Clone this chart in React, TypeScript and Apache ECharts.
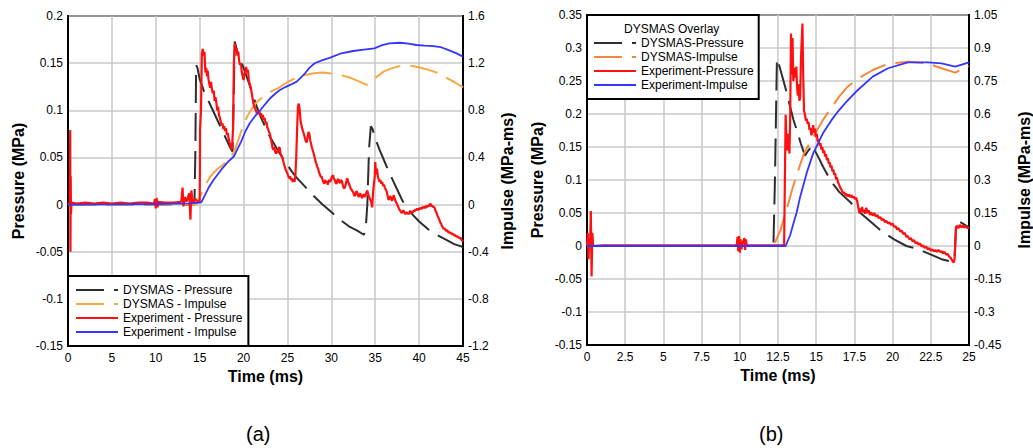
import React, { useEffect, useRef } from "react";
import * as echarts from "echarts";

// ---------- ticks ----------
const aTimeTicks = [0, 5, 10, 15, 20, 25, 30, 35, 40, 45];
const aPressureTicks = [-0.15, -0.1, -0.05, 0, 0.05, 0.1, 0.15, 0.2];
const aImpulseTicks = [-1.2, -0.8, -0.4, 0, 0.4, 0.8, 1.2, 1.6];
const bTimeTicks = [0, 2.5, 5, 7.5, 10, 12.5, 15, 17.5, 20, 22.5, 25];
const bPressureTicks = [-0.15, -0.1, -0.05, 0, 0.05, 0.1, 0.15, 0.2, 0.25, 0.3, 0.35];
const bImpulseTicks = [-0.45, -0.3, -0.15, 0, 0.15, 0.3, 0.45, 0.6, 0.75, 0.9, 1.05];

// ---------- legend names ----------
const aNames = ["DYSMAS - Pressure", "DYSMAS - Impulse", "Experiment - Pressure", "Experiment - Impulse"];
const bNames = ["DYSMAS-Pressure", "DYSMAS-Impulse", "Experiment-Pressure", "Experiment-Impulse"];

// ---------- chart (a) data: [time ms, value] ----------
const aDysmasPressure = [
  [0, 0], [14.4, 0], [14.5, 0.05], [14.6, 0.148], [14.75, 0.145], [15, 0.133], [15.5, 0.12], [16, 0.11],
  [16.5, 0.1], [17, 0.09], [17.5, 0.08], [18, 0.07], [18.5, 0.06], [18.75, 0.056], [18.85, 0.1], [19, 0.173],
  [19.2, 0.165], [19.5, 0.157], [20, 0.145], [20.5, 0.132], [21, 0.118], [21.5, 0.104], [22, 0.092],
  [22.5, 0.082], [23, 0.072], [23.5, 0.064], [24, 0.056], [24.5, 0.049], [25, 0.042], [25.5, 0.035],
  [26, 0.029], [26.5, 0.024], [27, 0.019], [28, 0.009], [29, 0.0], [30, -0.008], [31, -0.016], [32, -0.023],
  [33, -0.028], [33.7, -0.032], [33.9, -0.028], [34.1, 0.0], [34.3, 0.06], [34.5, 0.083], [34.7, 0.08],
  [35, 0.07], [35.5, 0.058], [36, 0.047], [36.5, 0.036], [37, 0.026], [37.5, 0.016], [38, 0.006],
  [38.5, -0.002], [39, -0.008], [39.5, -0.013], [40, -0.018], [40.5, -0.022], [41, -0.026], [41.5, -0.029],
  [42, -0.032], [43, -0.037], [44, -0.042], [45, -0.045],
];
const aDysmasImpulse = [
  [0, 0], [14.6, 0], [15, 0.06], [15.4, 0.124], [15.8, 0.185], [16.2, 0.236], [16.6, 0.27], [17, 0.3],
  [17.5, 0.33], [18, 0.36], [18.5, 0.4], [19, 0.46], [19.5, 0.57], [20, 0.68], [20.5, 0.76], [21, 0.82],
  [21.5, 0.87], [22, 0.9], [22.5, 0.93], [23, 0.955], [24, 0.99], [25, 1.04], [26, 1.075], [27, 1.1],
  [28, 1.115], [29, 1.12], [30, 1.112], [31, 1.1], [32, 1.08], [33, 1.05], [34, 1.015], [34.5, 1.04],
  [35, 1.075], [36, 1.13], [37, 1.16], [38, 1.178], [39, 1.178], [40, 1.165], [41, 1.145], [42, 1.12],
  [43, 1.08], [44, 1.04], [45, 0.995],
];
const aExpPressure = [
  [0, 0], [0.2, 0.002], [0.25, 0.079], [0.28, -0.05], [0.31, 0.03], [0.34, -0.01], [0.4, 0.002], [1, 0.001],
  [2, 0.002], [3, 0.001], [4, 0.002], [5, 0.001], [6, 0.002], [7, 0.001], [8, 0.002], [9, 0.002],
  [9.8, 0.001], [9.9, 0.006], [10, -0.004], [10.1, 0.007], [10.2, -0.003], [10.3, 0.003], [11, 0.002],
  [12, 0.002], [12.9, 0.003], [13.05, 0.018], [13.15, -0.002], [13.3, 0.008], [13.5, 0.003], [13.8, 0.012],
  [13.95, -0.016], [14.05, 0.015], [14.2, 0.002], [14.5, 0.006], [14.8, 0.003], [15, 0.003], [15.05, 0.08],
  [15.15, 0.1], [15.25, 0.16], [15.35, 0.165], [15.45, 0.158], [15.55, 0.162], [15.65, 0.14], [15.75, 0.145],
  [15.85, 0.136], [15.92, 0.142], [16, 0.133], [16.1, 0.128], [16.2, 0.124], [16.3, 0.13], [16.4, 0.122],
  [16.5, 0.118], [16.6, 0.121], [16.7, 0.11], [16.8, 0.114], [16.9, 0.108], [17, 0.1], [17.1, 0.104],
  [17.2, 0.095], [17.3, 0.092], [17.4, 0.088], [17.5, 0.084], [17.6, 0.086], [17.7, 0.08], [17.8, 0.083],
  [17.9, 0.078], [18, 0.081], [18.1, 0.074], [18.2, 0.076], [18.3, 0.07], [18.4, 0.066], [18.5, 0.063],
  [18.6, 0.058], [18.7, 0.062], [18.8, 0.08], [18.9, 0.15], [19, 0.171], [19.1, 0.162], [19.2, 0.166],
  [19.3, 0.158], [19.4, 0.162], [19.5, 0.152], [19.6, 0.148], [19.7, 0.15], [19.8, 0.14], [19.9, 0.136],
  [20, 0.132], [20.1, 0.138], [20.2, 0.142], [20.3, 0.146], [20.4, 0.14], [20.5, 0.143], [20.6, 0.132],
  [20.7, 0.128], [20.8, 0.125], [20.9, 0.12], [21, 0.114], [21.1, 0.108], [21.2, 0.105], [21.3, 0.102],
  [21.4, 0.1], [21.5, 0.097], [21.6, 0.1], [21.7, 0.096], [21.8, 0.099], [21.9, 0.094], [22, 0.097],
  [22.1, 0.092], [22.2, 0.095], [22.3, 0.09], [22.4, 0.092], [22.5, 0.086], [22.6, 0.088], [22.7, 0.082],
  [22.8, 0.08], [22.9, 0.077], [23, 0.075], [23.1, 0.07], [23.2, 0.066], [23.3, 0.06], [23.4, 0.058],
  [23.5, 0.061], [23.6, 0.056], [23.7, 0.054], [23.8, 0.057], [23.9, 0.055], [24, 0.06], [24.1, 0.061],
  [24.2, 0.055], [24.3, 0.052], [24.4, 0.05], [24.5, 0.047], [24.6, 0.043], [24.7, 0.04], [24.8, 0.037],
  [24.9, 0.035], [25, 0.033], [25.1, 0.03], [25.2, 0.028], [25.3, 0.03], [25.4, 0.026], [25.5, 0.028],
  [25.6, 0.024], [25.7, 0.027], [25.8, 0.024], [25.9, 0.03], [26, 0.05], [26.1, 0.08], [26.2, 0.104],
  [26.3, 0.107], [26.4, 0.1], [26.5, 0.088], [26.6, 0.084], [26.7, 0.08], [26.8, 0.077], [26.9, 0.074],
  [27, 0.07], [27.1, 0.067], [27.2, 0.066], [27.3, 0.072], [27.4, 0.077], [27.5, 0.075], [27.6, 0.068],
  [27.7, 0.064], [27.8, 0.06], [27.9, 0.057], [28, 0.054], [28.1, 0.05], [28.2, 0.046], [28.3, 0.043],
  [28.4, 0.04], [28.5, 0.038], [28.6, 0.034], [28.7, 0.032], [28.8, 0.029], [28.9, 0.03], [29, 0.026],
  [29.1, 0.024], [29.2, 0.022], [29.3, 0.026], [29.4, 0.023], [29.5, 0.025], [29.6, 0.021], [29.7, 0.025],
  [29.8, 0.026], [29.9, 0.024], [30, 0.028], [30.1, 0.03], [30.2, 0.031], [30.3, 0.027], [30.4, 0.026],
  [30.5, 0.023], [30.6, 0.022], [30.7, 0.026], [30.8, 0.027], [30.9, 0.024], [31, 0.023], [31.1, 0.026],
  [31.2, 0.025], [31.3, 0.021], [31.4, 0.018], [31.5, 0.017], [31.6, 0.02], [31.7, 0.024], [31.8, 0.028],
  [31.9, 0.025], [32, 0.022], [32.1, 0.02], [32.2, 0.017], [32.3, 0.016], [32.4, 0.014], [32.5, 0.013],
  [32.6, 0.01], [32.7, 0.009], [32.8, 0.013], [32.9, 0.014], [33, 0.011], [33.1, 0.008], [33.2, 0.01],
  [33.3, 0.012], [33.4, 0.009], [33.5, 0.007], [33.6, 0.009], [33.7, 0.011], [33.8, 0.008], [33.9, 0.01],
  [34, 0.013], [34.1, 0.015], [34.2, 0.011], [34.3, 0.008], [34.4, 0.006], [34.5, 0.004], [34.6, 0.0],
  [34.65, -0.003], [34.75, 0.012], [34.85, 0.022], [34.95, 0.03], [35, 0.045], [35.1, 0.032], [35.2, 0.038],
  [35.3, 0.03], [35.4, 0.027], [35.5, 0.024], [35.6, 0.026], [35.7, 0.022], [35.8, 0.024], [35.9, 0.02],
  [36, 0.021], [36.1, 0.018], [36.2, 0.016], [36.3, 0.014], [36.4, 0.01], [36.5, 0.005], [36.6, 0.006],
  [36.7, 0.009], [36.8, 0.007], [36.9, 0.004], [37, 0.006], [37.1, 0.01], [37.2, 0.007], [37.3, 0.004],
  [37.4, 0.002], [37.5, 0], [37.6, -0.002], [37.7, -0.004], [37.8, -0.006], [37.9, -0.007], [38, -0.009],
  [38.1, -0.008], [38.2, -0.006], [38.3, -0.008], [38.4, -0.01], [38.5, -0.009], [38.6, -0.008],
  [38.7, -0.01], [38.8, -0.009], [38.9, -0.01], [39, -0.008], [39.1, -0.007], [39.2, -0.009], [39.3, -0.008],
  [39.4, -0.006], [39.5, -0.007], [39.6, -0.005], [39.7, -0.006], [39.8, -0.004], [39.9, -0.006],
  [40, -0.004], [40.1, -0.005], [40.2, -0.003], [40.3, -0.005], [40.4, -0.002], [40.5, -0.004],
  [40.6, -0.002], [40.7, -0.004], [40.8, -0.001], [40.9, -0.003], [41, -0.001], [41.1, -0.002], [41.2, 0.0],
  [41.3, 0.001], [41.4, -0.002], [41.5, -0.001], [41.6, -0.003], [41.7, -0.002], [41.8, -0.005],
  [41.9, -0.007], [42, -0.009], [42.1, -0.012], [42.2, -0.014], [42.3, -0.016], [42.4, -0.019], [42.5, -0.02],
  [42.6, -0.023], [42.7, -0.024], [42.8, -0.026], [42.9, -0.025], [43, -0.027], [43.1, -0.028],
  [43.2, -0.027], [43.3, -0.029], [43.4, -0.03], [43.5, -0.029], [43.6, -0.031], [43.7, -0.03],
  [43.8, -0.032], [43.9, -0.031], [44, -0.033], [44.1, -0.032], [44.2, -0.034], [44.3, -0.033],
  [44.4, -0.035], [44.5, -0.034], [44.6, -0.036], [44.7, -0.035], [44.8, -0.037], [44.9, -0.038], [45, -0.039],
];
const aExpImpulse = [
  [0, 0], [5, 0.002], [10, 0.005], [14, 0.01], [15, 0.016], [15.2, 0.02], [15.6, 0.08], [16, 0.14],
  [16.5, 0.2], [16.9, 0.24], [17.5, 0.3], [18.2, 0.36], [18.9, 0.41], [19.3, 0.47], [19.7, 0.53],
  [20.2, 0.62], [20.7, 0.69], [21.3, 0.75], [21.9, 0.8], [22.5, 0.855], [23, 0.9], [23.6, 0.94],
  [24.1, 0.97], [24.7, 0.995], [25.3, 1.015], [26.05, 1.043], [26.5, 1.075], [27, 1.114], [27.5, 1.16],
  [28.1, 1.199], [29, 1.225], [29.8, 1.245], [31, 1.28], [32.5, 1.303], [33.7, 1.315], [34.9, 1.325],
  [35.7, 1.35], [36.6, 1.368], [37.8, 1.373], [38.8, 1.365], [39.7, 1.354], [40.6, 1.348], [41.6, 1.345],
  [42.5, 1.335], [43.3, 1.313], [44.2, 1.285], [45, 1.255],
];

// ---------- chart (b) data ----------
const bDysmasPressure = [
  [0, 0], [12.2, 0], [12.3, 0.1], [12.43, 0.284], [12.6, 0.272], [12.97, 0.241], [13.25, 0.215],
  [13.5, 0.192], [13.72, 0.176], [14.0, 0.155], [14.26, 0.137], [14.5, 0.145], [14.75, 0.153],
  [14.95, 0.143], [15.2, 0.132], [15.45, 0.12], [16.0, 0.097], [16.5, 0.082], [17.2, 0.067], [17.9, 0.05],
  [18.7, 0.034], [19.3, 0.022], [20.1, 0.01], [20.9, 0.0], [21.6, -0.004], [22.4, -0.012], [23.2, -0.02],
  [23.9, -0.024], [24.05, -0.02], [24.15, 0.03], [24.3, 0.038], [24.6, 0.034], [25, 0.028],
];
const bDysmasImpulse = [
  [0, 0], [12.2, 0], [12.65, 0.07], [13.08, 0.17], [13.4, 0.25], [13.72, 0.323], [14.2, 0.42],
  [14.8, 0.497], [15.44, 0.573], [16.0, 0.63], [16.5, 0.679], [17.0, 0.72], [17.6, 0.755], [18.7, 0.8],
  [19.7, 0.828], [21.0, 0.838], [22.3, 0.83], [23.2, 0.808], [24.1, 0.788], [25, 0.818],
];
const bExpPressure = [
  [0, 0], [0.05, 0.02], [0.1, -0.02], [0.15, 0.01], [0.2, 0.001], [0.25, 0.053], [0.3, -0.046], [0.35, 0.02],
  [0.4, 0], [1, 0.001], [3, 0.001], [5, 0.001], [7, 0.001], [9, 0.001], [9.8, 0.001], [9.85, 0.014],
  [9.9, -0.008], [9.95, 0.015], [10.0, -0.01], [10.05, 0.01], [10.1, -0.005], [10.2, 0.006], [10.3, 0.012],
  [10.35, -0.006], [10.4, 0.01], [10.45, 0.001], [11, 0.001], [12, 0.001], [12.9, 0.001], [12.95, 0.1],
  [13.0, 0.199], [13.05, 0.16], [13.1, 0.145], [13.15, 0.17], [13.2, 0.16], [13.25, 0.14], [13.3, 0.2],
  [13.35, 0.322], [13.4, 0.26], [13.45, 0.315], [13.5, 0.25], [13.55, 0.26], [13.6, 0.27], [13.65, 0.255],
  [13.7, 0.272], [13.75, 0.24], [13.8, 0.228], [13.85, 0.245], [13.9, 0.22], [13.95, 0.225], [14.0, 0.28],
  [14.05, 0.31], [14.1, 0.337], [14.15, 0.26], [14.2, 0.205], [14.26, 0.2], [14.32, 0.19], [14.38, 0.193],
  [14.44, 0.185], [14.5, 0.188], [14.56, 0.176], [14.62, 0.179], [14.68, 0.168], [14.74, 0.172],
  [14.8, 0.183], [14.86, 0.172], [14.92, 0.178], [14.98, 0.165], [15.04, 0.17], [15.1, 0.158],
  [15.16, 0.162], [15.22, 0.152], [15.28, 0.156], [15.34, 0.146], [15.4, 0.15], [15.46, 0.141],
  [15.52, 0.145], [15.58, 0.136], [15.64, 0.139], [15.7, 0.13], [15.76, 0.133], [15.82, 0.125],
  [15.88, 0.127], [15.94, 0.119], [16.0, 0.122], [16.06, 0.113], [16.12, 0.116], [16.18, 0.108],
  [16.24, 0.11], [16.3, 0.101], [16.36, 0.104], [16.42, 0.097], [16.5, 0.093], [16.58, 0.088],
  [16.66, 0.085], [16.74, 0.08], [16.82, 0.082], [16.9, 0.077], [16.98, 0.079], [17.06, 0.075],
  [17.14, 0.078], [17.22, 0.074], [17.3, 0.077], [17.38, 0.073], [17.46, 0.075], [17.54, 0.071],
  [17.62, 0.073], [17.7, 0.066], [17.76, 0.058], [17.82, 0.05], [17.88, 0.057], [17.94, 0.052],
  [18.0, 0.059], [18.06, 0.051], [18.12, 0.055], [18.2, 0.049], [18.28, 0.058], [18.36, 0.05],
  [18.44, 0.054], [18.52, 0.047], [18.6, 0.051], [18.7, 0.046], [18.8, 0.05], [18.9, 0.045], [19.0, 0.047],
  [19.1, 0.042], [19.2, 0.044], [19.3, 0.039], [19.4, 0.041], [19.5, 0.036], [19.6, 0.038], [19.7, 0.034],
  [19.8, 0.036], [19.9, 0.032], [20.0, 0.034], [20.1, 0.029], [20.2, 0.03], [20.3, 0.025], [20.4, 0.027],
  [20.5, 0.022], [20.6, 0.023], [20.7, 0.018], [20.8, 0.02], [20.9, 0.014], [21.0, 0.015], [21.1, 0.01],
  [21.2, 0.012], [21.3, 0.007], [21.4, 0.009], [21.5, 0.004], [21.6, 0.006], [21.7, 0.002], [21.8, 0.004],
  [21.9, -0.001], [22.0, 0.001], [22.1, -0.003], [22.2, -0.001], [22.3, -0.005], [22.4, -0.003],
  [22.5, -0.007], [22.6, -0.005], [22.7, -0.008], [22.8, -0.006], [22.9, -0.009], [23.0, -0.006],
  [23.1, -0.009], [23.2, -0.008], [23.3, -0.011], [23.4, -0.009], [23.5, -0.013], [23.6, -0.012],
  [23.7, -0.016], [23.8, -0.018], [23.9, -0.022], [24.0, -0.025], [24.05, -0.02], [24.1, 0.0],
  [24.15, 0.028], [24.2, 0.031], [24.3, 0.027], [24.4, 0.032], [24.5, 0.028], [24.6, 0.031], [24.7, 0.028],
  [24.8, 0.03], [24.9, 0.027], [25, 0.028],
];
const bExpImpulse = [
  [0, 0], [13.0, 0], [13.3, 0.05], [13.5, 0.1], [13.72, 0.152], [13.94, 0.22], [14.37, 0.33],
  [14.8, 0.421], [15.44, 0.512], [16.0, 0.572], [16.5, 0.618], [17.0, 0.657], [17.6, 0.701], [18.7, 0.77],
  [19.7, 0.808], [21.0, 0.835], [22.3, 0.835], [23.2, 0.83], [24.1, 0.815], [25, 0.835],
];

const FONT = "Liberation Sans, Arial, sans-serif";
const GRID_COLOR = "#c8c8c8";

function axisRange(ticks: number[]) {
  return {
    min: ticks[0],
    max: ticks[ticks.length - 1],
    interval: Math.round((ticks[1] - ticks[0]) * 1000) / 1000,
  };
}

function xAxisCfg(ticks: number[], gridIndex: number) {
  return {
    type: "value",
    gridIndex,
    ...axisRange(ticks),
    name: "Time (ms)",
    nameLocation: "middle",
    nameGap: 22,
    nameTextStyle: { fontFamily: FONT, fontSize: 16, fontWeight: "bold", color: "#000" },
    axisLine: { show: true, onZero: false, lineStyle: { color: "#000", width: 2 } },
    axisTick: { show: false },
    axisLabel: { fontFamily: FONT, fontSize: 12, color: "#000", margin: 6 },
    splitLine: { show: true, lineStyle: { color: GRID_COLOR, width: 1.5 } },
  };
}

function yAxisCfg(ticks: number[], gridIndex: number, position: string, name: string, gap: number, split: boolean) {
  return {
    type: "value",
    gridIndex,
    position,
    ...axisRange(ticks),
    name,
    nameLocation: "middle",
    nameGap: gap,
    nameTextStyle: { fontFamily: FONT, fontSize: 16, fontWeight: "bold", color: "#000" },
    axisLine: { show: true, onZero: false, lineStyle: { color: "#000", width: 2 } },
    axisTick: { show: false },
    axisLabel: { fontFamily: FONT, fontSize: 12, color: "#000", margin: 5 },
    splitLine: { show: split, lineStyle: { color: GRID_COLOR, width: 1.5 } },
  };
}

function lineSeries(name: string, data: number[][], xi: number, yi: number, color: string, width: number, dashed: boolean) {
  return {
    name,
    type: "line",
    xAxisIndex: xi,
    yAxisIndex: yi,
    data,
    symbol: "none",
    showSymbol: false,
    smooth: false,
    lineStyle: { color, width, type: dashed ? [28, 10] : "solid", dashOffset: 0 },
    itemStyle: { color },
  };
}

export default function App() {
  const ref = useRef<HTMLDivElement>(null);
  useEffect(() => {
    if (!ref.current) return;
    const chart = echarts.init(ref.current, undefined, { renderer: "svg" });
    const legendBase = {
      orient: "vertical",
      itemWidth: 42,
      itemHeight: 12,
      itemGap: 2,
      backgroundColor: "#fff",
      borderColor: "#000",
      borderWidth: 2,
      borderRadius: 0,
      itemStyle: { opacity: 0, borderWidth: 0 },
      textStyle: { fontFamily: FONT, fontSize: 12, color: "#000" },
      selectedMode: false,
    };
    chart.setOption({
      animation: false,
      textStyle: { fontFamily: FONT },
      grid: [
        { left: 68, top: 16, width: 395, height: 330, show: true, borderColor: "#000", borderWidth: 2, backgroundColor: "#fff" },
        { left: 587, top: 15, width: 388, height: 330, show: true, borderColor: "#000", borderWidth: 2, backgroundColor: "#fff" },
      ],
      title: {
        text: "DYSMAS Overlay",
        left: 624,
        top: 23,
        padding: 0,
        textStyle: { fontFamily: FONT, fontSize: 12, fontWeight: "normal", color: "#000" },
      },
      legend: [
        { ...legendBase, data: aNames, left: 68, top: 276, padding: [8, 6, 8, 7] },
        { ...legendBase, data: bNames, left: 587, top: 15, padding: [22, 5, 8, 6] },
      ],
      xAxis: [xAxisCfg(aTimeTicks, 0), xAxisCfg(bTimeTicks, 1)],
      yAxis: [
        yAxisCfg(aPressureTicks, 0, "left", "Pressure (MPa)", 42, true),
        yAxisCfg(aImpulseTicks, 0, "right", "Impulse (MPa-ms)", 36, false),
        yAxisCfg(bPressureTicks, 1, "left", "Pressure (MPa)", 42, true),
        yAxisCfg(bImpulseTicks, 1, "right", "Impulse (MPa-ms)", 47, false),
      ],
      series: [
        lineSeries(aNames[0], aDysmasPressure, 0, 0, "#2e2e2e", 2, true),
        lineSeries(aNames[1], aDysmasImpulse, 0, 1, "#f7a845", 2, true),
        lineSeries(aNames[2], aExpPressure, 0, 0, "#ff1010", 2.2, false),
        lineSeries(aNames[3], aExpImpulse, 0, 1, "#3535ff", 1.8, false),
        lineSeries(bNames[0], bDysmasPressure, 1, 2, "#2e2e2e", 2, true),
        lineSeries(bNames[1], bDysmasImpulse, 1, 3, "#f5883a", 2, true),
        lineSeries(bNames[2], bExpPressure, 1, 2, "#ff1010", 2.2, false),
        lineSeries(bNames[3], bExpImpulse, 1, 3, "#3535ff", 1.8, false),
      ],
      graphic: [
        { type: "text", left: 246, top: 424, style: { text: "(a)", font: `20px ${FONT}`, fill: "#000" } },
        { type: "text", left: 759, top: 424, style: { text: "(b)", font: `20px ${FONT}`, fill: "#000" } },
      ],
    });
    return () => chart.dispose();
  }, []);
  return (
    <div
      ref={ref}
      style={{ position: "fixed", left: 0, top: 0, width: 1033, height: 448, background: "#fff" }}
    />
  );
}
